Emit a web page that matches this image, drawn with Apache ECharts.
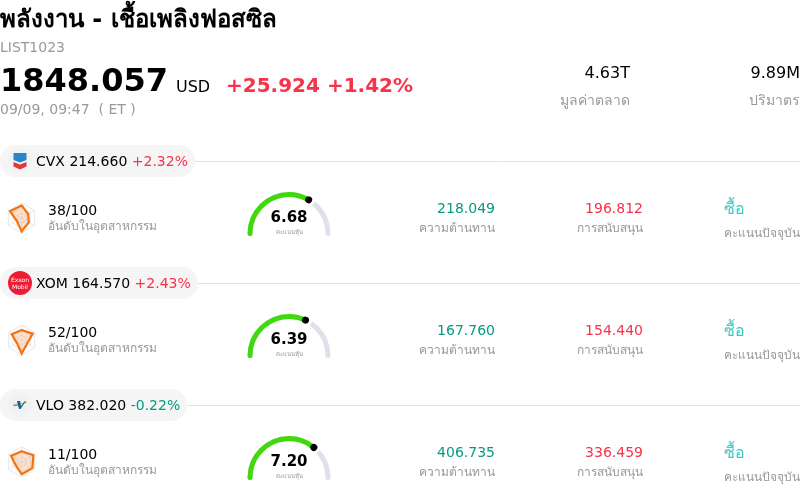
<!DOCTYPE html>
<html><head><meta charset="utf-8">
<style>html,body{margin:0;padding:0;background:#fff;overflow:hidden}#c{width:800px;height:499px}</style>
<script src="https://cdn.jsdelivr.net/npm/echarts@6/dist/echarts.min.js"></script>
</head><body><div id="c"></div>
<script>
const tickers = ["CVX", "XOM", "VLO"];
const prices = ["214.660", "164.570", "382.020"];
const changes = ["+2.32%", "+2.43%", "-0.22%"];
const industryScores = ["38/100", "52/100", "11/100"];
const gaugeValues = [6.68, 6.39, 7.20];
const resistance = ["218.049", "167.760", "406.735"];
const support = ["196.812", "154.440", "336.459"];
const ratings = ["ซื้อ", "ซื้อ", "ซื้อ"];
// radar: top, upper-left, lower-left, bottom, lower-right, upper-right
const radarCVX = [0.84, 0.9, 0.38, 0.9, 0.55, 0.5];
const radarXOM = [0.66, 0.77, 0.38, 0.9, 0.43, 0.85];
const radarVLO = [0.72, 0.82, 0.45, 0.82, 0.82, 0.9];
const radarValues = [radarCVX, radarXOM, radarVLO];

const FONT = '"DejaVu Sans", "Noto Sans", sans-serif';
const RED = '#f7324a', GREEN = '#089981', GRAY = '#999999', TEAL = '#3cc9c4';
const ROW = 122;
const TRACK_R = 39;
// A pointer icon: a disc of diameter d at the top, and a speck at the gauge centre that fixes the icon's extent.
function dotIcon(d) {
  const r = d * 5, h = (TRACK_R + d / 2) * 10;
  return `path://M0 ${r}A${r} ${r} 0 1 1 ${2 * r} ${r}A${r} ${r} 0 1 1 0 ${r}ZM${r - 1} ${h - 1}L${r + 1} ${h - 1}L${r + 1} ${h}L${r - 1} ${h}Z`;
}

const graphic = [];
function txt(x, y, s, size, color, o) {
  graphic.push({ type: 'text', x, y, silent: true, style: Object.assign({
    text: s, fill: color, font: `${(o && o.bold) ? 'bold ' : ''}${size}px ${FONT}`,
    textAlign: (o && o.align) || 'left', textVerticalAlign: 'middle' }) });
}
txt(0, 21, 'พลังงาน - เชื้อเพลิงฟอสซิล', 24, '#000', { bold: true });
txt(0, 48, 'LIST1023', 14, GRAY);
txt(0, 83, '1848.057', 32, '#000', { bold: true });
txt(176, 88, 'USD', 16, '#000');
txt(226, 87, '+25.924 +1.42%', 20, RED, { bold: true });
txt(0, 110, '09/09, 09:47  ( ET )', 14, GRAY);
txt(630, 74, '4.63T', 16, '#000', { align: 'right' });
txt(630, 101, 'มูลค่าตลาด', 14, GRAY, { align: 'right' });
txt(800, 74, '9.89M', 16, '#000', { align: 'right' });
txt(800, 101, 'ปริมาตร', 14, GRAY, { align: 'right' });

const pillW = [195, 198, 187];
const series = [], radars = [];
tickers.forEach((t, i) => {
  const dy = i * ROW;
  graphic.push({ type: 'line', silent: true, shape: { x1: pillW[i], y1: 161.5 + dy, x2: 800, y2: 161.5 + dy }, style: { stroke: '#e0e0e6', lineWidth: 1 } });
  graphic.push({ type: 'rect', silent: true, shape: { x: 0, y: 145 + dy, width: pillW[i], height: 32, r: 16 }, style: { fill: '#f5f5f5' } });
  const cy = 161 + dy;
  graphic.push({ type: 'circle', silent: true, shape: { cx: 20, cy, r: 12 }, style: { fill: i === 1 ? '#ee1b34' : '#f0f2f4' } });
  if (i === 0) {
    graphic.push({ type: 'polygon', silent: true, shape: { points: [[13.5, cy - 8], [26.5, cy - 8], [26.5, cy - 1], [20, cy + 1.5], [13.5, cy - 1]] }, style: { fill: '#2a86c8' } });
    graphic.push({ type: 'polygon', silent: true, shape: { points: [[13.5, cy + 1], [20, cy + 3.5], [26.5, cy + 1], [26.5, cy + 5.5], [20, cy + 8.5], [13.5, cy + 5.5]] }, style: { fill: '#dd3a3a' } });
  } else if (i === 1) {
    graphic.push({ type: 'text', silent: true, x: 20, y: cy - 3, style: { text: 'Exxon', fill: '#fff', font: `6px ${FONT}`, textAlign: 'center', textVerticalAlign: 'middle' } });
    graphic.push({ type: 'text', silent: true, x: 20, y: cy + 4, style: { text: 'Mobil', fill: '#fff', font: `6px ${FONT}`, textAlign: 'center', textVerticalAlign: 'middle' } });
  } else {
    graphic.push({ type: 'polygon', silent: true, shape: { points: [[13, cy - 1], [27, cy - 3], [27, cy - 2], [13, cy]] }, style: { fill: '#d8b53a' } });
    graphic.push({ type: 'polygon', silent: true, shape: { points: [[17, cy - 4], [20, cy - 4], [21, cy + 1], [25, cy - 4], [26, cy - 4], [20.5, cy + 4], [19, cy + 4]] }, style: { fill: '#12628f' } });
    graphic.push({ type: 'polygon', silent: true, shape: { points: [[13, cy + 0.5], [18, cy - 0.5], [18.5, cy + 0.5], [14, cy + 1.2]] }, style: { fill: '#3f9a72' } });
  }
  const isUp = changes[i][0] === '+';
  graphic.push({ type: 'text', silent: true, x: 36, y: cy + 1, style: {
    text: `{a|${t} ${prices[i]} }{b|${changes[i]}}`, textVerticalAlign: 'middle',
    rich: { a: { fill: '#000', font: `14px ${FONT}` }, b: { fill: isUp ? RED : GREEN, font: `14px ${FONT}` } } } });
  txt(48, 211 + dy, industryScores[i], 14, '#000');
  txt(48, 227 + dy, 'อันดับในอุตสาหกรรม', 12, GRAY);
  txt(495, 209 + dy, resistance[i], 14, GREEN, { align: 'right' });
  txt(495, 229 + dy, 'ความต้านทาน', 12, GRAY, { align: 'right' });
  txt(643, 209 + dy, support[i], 14, RED, { align: 'right' });
  txt(643, 229 + dy, 'การสนับสนุน', 12, GRAY, { align: 'right' });
  txt(724, 210 + dy, ratings[i], 16, TEAL);
  txt(724, 234 + dy, 'คะแนนปัจจุบัน', 12, GRAY);

  radars.push({
    center: [21.7, 218 + dy], radius: 15, startAngle: 90, splitNumber: 3, shape: 'polygon',
    indicator: radarValues[i].map(() => ({ max: 1, min: 0 })),
    axisName: { show: false },
    axisLine: { lineStyle: { color: '#e4e4ee', width: 0.6 } },
    splitLine: { lineStyle: { color: '#dfe0ea', width: 0.8 } },
    splitArea: { show: false }
  });
  series.push({
    type: 'radar', radarIndex: i, symbol: 'none', silent: true,
    lineStyle: { color: '#f5730f', width: 2.2, join: 'miter', cap: 'round' },
    areaStyle: { color: '#f5730f', opacity: 0.2 },
    data: [{ value: radarValues[i] }]
  });
  const center = [289, 233.5 + dy];
  series.push({
    type: 'gauge', min: 0, max: 10, startAngle: 180, endAngle: 0, silent: true,
    center, radius: TRACK_R + 2.5,
    axisLine: { roundCap: true, lineStyle: { width: 5, color: [[1, '#e0e0ec']] } },
    progress: { show: true, roundCap: true, width: 5, itemStyle: { color: '#3fd90c' } },
    axisTick: { show: false }, splitLine: { show: false }, axisLabel: { show: false },
    pointer: { show: true, icon: dotIcon(13), width: 13, length: TRACK_R + 6.5, offsetCenter: [0, 0], itemStyle: { color: '#fff' } },
    anchor: { show: false },
    title: { show: true, offsetCenter: [0, -1], fontSize: 6, color: '#999', fontFamily: FONT },
    detail: { show: true, offsetCenter: [0, -15], fontSize: 15, fontWeight: 'bold', color: '#000', fontFamily: FONT, formatter: v => v.toFixed(2), valueAnimation: false },
    data: [{ value: gaugeValues[i], name: 'คะแนนหุ้น' }]
  });
  series.push({
    type: 'gauge', min: 0, max: 10, startAngle: 180, endAngle: 0, silent: true, z: 5,
    center, radius: TRACK_R + 2.5,
    axisLine: { show: false }, progress: { show: false },
    axisTick: { show: false }, splitLine: { show: false }, axisLabel: { show: false },
    pointer: { show: true, icon: dotIcon(7), width: 7, length: TRACK_R + 3.5, offsetCenter: [0, 0], itemStyle: { color: '#000' } },
    anchor: { show: false }, title: { show: false }, detail: { show: false },
    data: [{ value: gaugeValues[i] }]
  });
});

const chart = echarts.init(document.getElementById('c'), null, { renderer: 'canvas' });
chart.setOption({ animation: false, backgroundColor: '#fff', radar: radars, series, graphic: { elements: graphic } });
</script></body></html>
